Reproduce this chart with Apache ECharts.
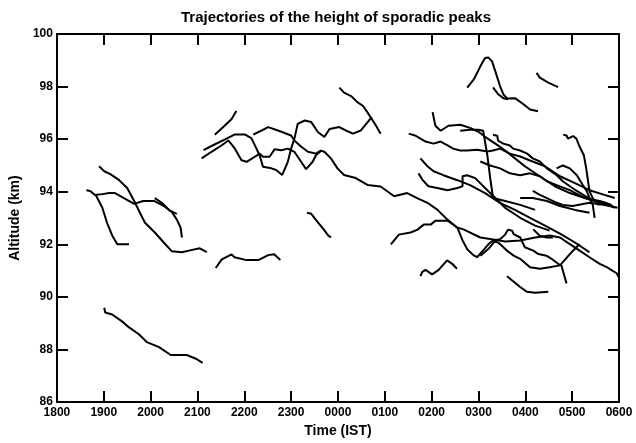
<!DOCTYPE html>
<html><head><meta charset="utf-8">
<script src="https://cdn.jsdelivr.net/npm/echarts@6/dist/echarts.min.js"></script>
<style>html,body{margin:0;padding:0;background:#fff}#c{width:636px;height:443px}</style>
</head><body><div id="c"></div>
<script>
// time = hours after 18:00 IST, altitude in km
const xTickHours = [0,1,2,3,4,5,6,7,8,9,10,11,12];
const yTicks = [86,88,90,92,94,96,98,100];

const T1 = [[0.63,94.06],[0.71,94.03],[0.84,93.84],[0.97,93.39],[1.07,92.82],[1.18,92.34],[1.29,92.0],[1.54,92.0]];
const T2 = [[0.80,93.88],[0.97,93.91],[1.12,93.95],[1.24,93.95],[1.43,93.76],[1.65,93.54],[1.84,93.65],[2.07,93.65],[2.28,93.46],[2.45,93.24],[2.56,92.94],[2.64,92.64],[2.67,92.26]];
const T3 = [[2.09,93.76],[2.24,93.58],[2.41,93.28],[2.56,93.16]];
const T4 = [[0.90,94.97],[1.01,94.78],[1.14,94.67],[1.33,94.44],[1.50,94.14],[1.65,93.65],[1.75,93.28],[1.88,92.82],[2.09,92.45],[2.28,92.07],[2.45,91.74],[2.67,91.70],[2.84,91.77],[3.05,91.85],[3.20,91.70]];
const T5 = [[1.01,89.59],[1.03,89.41],[1.18,89.33],[1.39,89.07],[1.54,88.84],[1.75,88.58],[1.92,88.28],[2.18,88.09],[2.43,87.79],[2.77,87.79],[2.98,87.64],[3.11,87.49]];
const T6 = [[3.39,91.10],[3.52,91.43],[3.73,91.62],[3.79,91.51],[4.05,91.40],[4.30,91.40],[4.51,91.59],[4.64,91.62],[4.77,91.40]];
const T7 = [[5.34,93.20],[5.43,93.16],[5.58,92.82],[5.70,92.56],[5.79,92.34],[5.85,92.26]];
const La = [[3.37,96.17],[3.58,96.51],[3.73,96.77],[3.83,97.07]];
const Mid = [[6.03,97.96],[6.13,97.77],[6.28,97.64],[6.42,97.40],[6.53,97.27],[6.63,97.02],[6.70,96.83],[6.81,96.52],[6.91,96.21]];
const U1 = [[3.13,95.58],[3.30,95.74],[3.59,95.99],[3.80,96.18],[4.01,96.18],[4.15,96.04],[4.26,95.64],[4.33,95.37],[4.40,94.95],[4.58,94.89],[4.68,94.83],[4.81,94.64],[4.93,95.14],[5.00,95.64],[5.07,96.02],[5.14,96.58],[5.29,96.71],[5.43,96.65],[5.57,96.27],[5.71,96.08],[5.82,96.39],[6.03,96.46],[6.17,96.33],[6.32,96.21],[6.49,96.33],[6.66,96.71],[6.72,96.83]];
const U2 = [[3.09,95.27],[3.30,95.52],[3.52,95.77],[3.66,95.95],[3.80,95.64],[3.94,95.20],[4.05,95.14],[4.22,95.33],[4.33,95.45],[4.40,95.33],[4.54,95.33],[4.65,95.62],[4.79,95.58],[4.93,95.64],[5.07,95.52],[5.21,95.15],[5.32,94.86],[5.46,95.14],[5.53,95.39],[5.64,95.56],[5.71,95.52],[5.85,95.27],[5.99,94.89],[6.13,94.64],[6.38,94.52],[6.63,94.26],[6.91,94.20],[7.20,93.83],[7.48,93.95],[7.69,93.76],[7.91,93.58],[8.12,93.32],[8.33,92.95],[8.54,92.64],[8.68,92.57],[9.04,92.26],[9.25,92.20],[9.57,92.11],[9.89,92.15],[10.21,92.26],[10.52,92.34],[10.74,92.26],[10.95,92.01],[11.16,91.76],[11.37,91.51],[11.59,91.26],[11.74,91.13],[11.84,91.02],[11.95,90.90],[11.99,90.77]];
const U3 = [[4.19,96.17],[4.37,96.33],[4.51,96.46],[4.72,96.33],[5.00,96.14],[5.07,95.95],[5.21,95.72],[5.36,95.52],[5.53,95.45],[5.64,95.57]];
const P1 = [[8.76,97.96],[8.90,98.27],[9.04,98.77],[9.14,99.09],[9.21,99.11],[9.29,98.96],[9.36,98.58],[9.46,98.02],[9.53,97.71],[9.61,97.55],[9.78,97.56],[9.96,97.33],[10.10,97.13],[10.27,97.06]];
const P1b = [[9.31,97.97],[9.42,97.71],[9.53,97.56],[9.63,97.52]];
const P2 = [[10.24,98.52],[10.31,98.34],[10.49,98.15],[10.70,97.98]];
const P3 = [[10.81,96.17],[10.88,96.14],[10.91,96.02],[11.02,96.12],[11.09,96.02],[11.16,95.71],[11.25,95.39],[11.30,94.89],[11.34,94.39],[11.37,94.02],[11.44,93.76],[11.55,93.51],[11.69,93.58],[11.87,93.45]];
const R1 = [[7.13,92.0],[7.30,92.37],[7.55,92.45],[7.70,92.56],[7.83,92.75],[7.98,92.75],[8.08,92.90],[8.34,92.90],[8.55,92.64],[8.66,92.15],[8.76,91.81],[8.89,91.59],[8.97,91.51],[9.10,91.77],[9.21,92.0],[9.31,92.15],[9.46,92.19],[9.57,92.37],[9.63,92.56],[9.72,92.52],[9.75,92.39],[9.89,92.26],[9.99,91.89],[10.17,91.76],[10.28,91.63],[10.45,91.57],[10.56,91.45],[10.70,91.26],[10.77,91.20],[10.88,90.51]];
const R2 = [[7.76,90.79],[7.80,90.95],[7.87,91.03],[8.01,90.86],[8.15,91.03],[8.33,91.39],[8.44,91.26],[8.54,91.07]];
const R3 = [[9.61,90.79],[9.89,90.38],[10.03,90.20],[10.21,90.16],[10.49,90.20]];
const R4 = [[10.17,92.57],[10.31,92.33],[10.45,92.26],[10.59,92.26]];
const R6 = [[9.04,91.57],[9.21,91.82],[9.36,92.14],[9.46,92.01],[9.61,91.76],[9.75,91.57],[9.89,91.45],[10.10,91.13],[10.31,91.07],[10.52,91.13],[10.74,91.20],[10.95,91.63],[11.09,91.89],[11.16,92.01]];
const D1 = [[7.51,96.21],[7.66,96.13],[7.76,96.02],[7.87,95.91],[8.04,95.83],[8.19,95.91],[8.34,95.76],[8.46,95.64],[8.61,95.57],[8.76,95.57],[8.97,95.60],[9.19,95.53],[9.31,95.57],[9.46,95.64],[9.67,95.45],[9.89,95.34],[10.10,95.19],[10.42,94.97],[10.74,94.59],[11.06,94.33],[11.37,94.06],[11.69,93.88],[11.91,93.76]];
const D2 = [[8.02,97.03],[8.08,96.51],[8.19,96.32],[8.36,96.51],[8.61,96.55],[8.82,96.43],[9.00,96.28],[9.14,96.09],[9.36,95.83],[9.57,95.57],[9.78,95.27],[9.99,94.97],[10.31,94.59],[10.63,94.21],[10.95,93.95],[11.27,93.76],[11.59,93.65],[11.84,93.50]];
const D3 = [[8.61,96.32],[8.82,96.36],[9.00,96.36],[9.10,96.32],[9.19,95.38],[9.25,94.52],[9.29,94.03],[9.31,93.76],[9.57,93.65],[9.89,93.50],[10.21,93.31]];
const D4 = [[7.76,95.27],[7.91,94.97],[8.04,94.78],[8.25,94.63],[8.55,94.44],[8.82,94.25],[9.14,93.95],[9.46,93.58],[9.78,93.31],[10.10,93.01],[10.42,92.71],[10.74,92.41],[11.06,92.07],[11.37,91.70]];
const D5 = [[7.72,94.70],[7.81,94.44],[7.93,94.21],[8.12,94.14],[8.34,94.06],[8.55,94.14],[8.66,94.21],[8.66,94.59],[8.76,94.63],[8.93,94.52],[9.14,94.14],[9.36,93.76],[9.57,93.39],[9.89,93.01],[10.21,92.71],[10.52,92.52]];
const D7 = [[9.31,96.17],[9.40,96.13],[9.42,95.94],[9.53,95.83],[9.67,95.76],[9.74,95.64],[9.89,95.57],[10.04,95.45],[10.16,95.27],[10.31,95.15],[10.46,94.89],[10.67,94.63],[10.80,94.40],[10.95,94.21],[11.10,94.03],[11.27,93.84],[11.48,93.65],[11.69,93.58],[11.91,93.39]];
const D8 = [[9.04,95.15],[9.25,95.00],[9.46,94.89],[9.67,94.70],[9.89,94.63],[10.10,94.70],[10.31,94.59],[10.46,94.40],[10.67,94.25],[10.95,94.06],[11.27,93.76],[11.59,93.58],[11.84,93.46]];
const D9 = [[9.89,93.76],[10.16,93.76],[10.46,93.65],[10.74,93.46],[11.06,93.31],[11.37,93.20]];
const D10 = [[10.16,94.03],[10.31,93.88],[10.46,93.76],[10.67,93.58],[10.80,93.50],[11.01,93.46],[11.37,93.58],[11.69,93.50],[11.97,93.39]];
const D11 = [[10.67,94.89],[10.80,95.00],[10.95,94.89],[11.10,94.63],[11.23,94.25],[11.31,94.03],[11.37,93.76],[11.44,93.50],[11.48,93.01]];

const trajectories = [T1,T2,T3,T4,T5,T6,T7,La,Mid,U1,U2,U3,P1,P1b,P2,P3,R1,R2,R3,R4,R6,D1,D2,D3,D4,D5,D7,D8,D9,D10,D11];

const fmtTime = v => String(((18 + v) % 24) * 100).padStart(4, '0');
const font = 'Liberation Sans, Arial, sans-serif';
const axisCommon = {
  type: 'value',
  axisLine: { show: true, onZero: false, lineStyle: { color: '#000', width: 2 } },
  axisTick: { show: true, inside: true, length: 11, lineStyle: { color: '#000', width: 2 } },
  splitLine: { show: false }
};

const chart = echarts.init(document.getElementById('c'), null, { renderer: 'canvas' });
chart.setOption({
  animation: false,
  backgroundColor: '#fff',
  graphic: [{
    type: 'text', x: 336, y: 10,
    style: { text: 'Trajectories of the height of sporadic peaks', fontFamily: font, fontWeight: 'bold', fontSize: 15, fill: '#000', textAlign: 'center', textVerticalAlign: 'top' }
  }],
  grid: { left: 54, right: 17, top: 34, bottom: 37, containLabel: false },
  xAxis: [
    Object.assign({}, axisCommon, {
      min: 0, max: 12, interval: 1, position: 'bottom',
      name: 'Time (IST)', nameLocation: 'middle', nameGap: 19,
      nameTextStyle: { fontFamily: font, fontWeight: 'bold', fontSize: 14, color: '#000' },
      axisLabel: { margin: 5, fontFamily: font, fontWeight: 'bold', fontSize: 12, color: '#000', formatter: fmtTime, customValues: xTickHours }
    }),
    Object.assign({}, axisCommon, { min: 0, max: 12, interval: 1, position: 'top', axisLabel: { show: false } })
  ],
  yAxis: [
    Object.assign({}, axisCommon, {
      min: 86, max: 100, interval: 2, position: 'left',
      name: 'Altitude (km)', nameLocation: 'middle', nameGap: 31,
      nameTextStyle: { fontFamily: font, fontWeight: 'bold', fontSize: 14, color: '#000' },
      axisLabel: { margin: 4, fontFamily: font, fontWeight: 'bold', fontSize: 12, color: '#000', customValues: yTicks }
    }),
    Object.assign({}, axisCommon, { min: 86, max: 100, interval: 2, position: 'right', axisLabel: { show: false } })
  ],
  series: trajectories.map(d => ({
    type: 'line', data: d, xAxisIndex: 0, yAxisIndex: 0,
    showSymbol: false, symbol: 'none', silent: true,
    lineStyle: { color: '#000', width: 2 }
  }))
});
</script></body></html>
